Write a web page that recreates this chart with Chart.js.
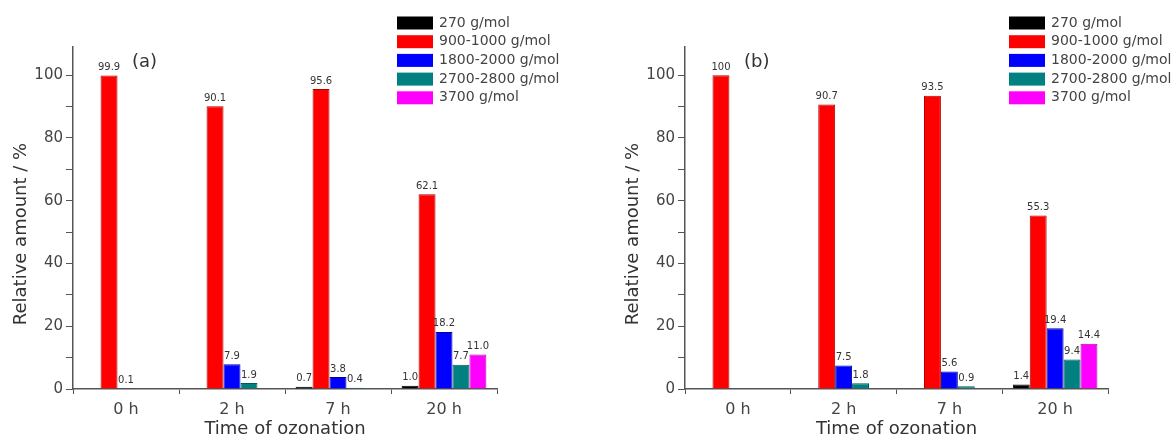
<!DOCTYPE html>
<html lang="en">
<head>
<meta charset="UTF-8">
<title>Relative amount vs time of ozonation</title>
<style>
  body { margin: 0; background: #fff; }
  #wrap { position: relative; width: 1176px; height: 440px; overflow: hidden; }
  .panel { position: absolute; top: 0; height: 440px; }
  #panelA { left: 0; width: 588px; }
  #panelB { left: 612px; width: 564px; }
</style>
</head>
<body>
<div id="wrap">
  <div class="panel" id="panelA"><canvas id="chartA"></canvas></div>
  <div class="panel" id="panelB"><canvas id="chartB"></canvas></div>
</div>
<script src="https://cdn.jsdelivr.net/npm/chart.js@4/dist/chart.umd.min.js"></script>
<script>
const times = ['0 h', '2 h', '7 h', '20 h']
const seriesNames = ['270 g/mol', '900-1000 g/mol', '1800-2000 g/mol', '2700-2800 g/mol', '3700 g/mol']
const yLabelTicks = [0, 20, 40, 60, 80, 100]
const yMarkTicks = [0, 10, 20, 30, 40, 50, 60, 70, 80, 90, 100]

// panel (a)
const a270 = [null, null, 0.7, 1.0]
const a900 = [99.9, 90.1, 95.6, 62.1]
const a1800 = [0.1, 7.9, 3.8, 18.2]
const a2700 = [null, 1.9, 0.4, 7.7]
const a3700 = [null, null, null, 11.0]

// panel (b)
const b270 = [null, null, null, 1.4]
const b900 = [100, 90.7, 93.5, 55.3]
const b1800 = [null, 7.5, 5.6, 19.4]
const b2700 = [null, 1.8, 0.9, 9.4]
const b3700 = [null, null, null, 14.4]

const fillColors = ['#000000', '#ff0000', '#0000ff', '#008080', '#ff00ff']
const edgeColors = ['#000000', '#b00000', '#0000a0', '#005a5a', '#b000b0']
const FONT = '"DejaVu Sans", sans-serif'

// bar value text above every bar
const valueLabels = {
  id: 'valueLabels',
  afterDatasetsDraw(chart) {
    const ctx = chart.ctx
    ctx.save()
    ctx.font = '10px ' + FONT
    ctx.fillStyle = '#333'
    ctx.textAlign = 'center'
    ctx.textBaseline = 'bottom'
    chart.data.datasets.forEach((ds, i) => {
      chart.getDatasetMeta(i).data.forEach((bar, j) => {
        const v = ds.data[j]
        if (v == null) return
        const txt = v === 100 ? '100' : v.toFixed(1)
        ctx.fillText(txt, bar.x, bar.y - 3)
      })
    })
    ctx.restore()
  }
}

// legend boxes at the top right, panel tag and y title
const boxLegend = {
  id: 'boxLegend',
  afterDraw(chart, args, opts) {
    const ctx = chart.ctx
    ctx.save()
    ctx.font = '14px ' + FONT
    ctx.textBaseline = 'middle'
    ctx.textAlign = 'left'
    chart.data.datasets.forEach((ds, i) => {
      const y = opts.y + i * opts.step
      ctx.fillStyle = ds.backgroundColor
      ctx.fillRect(opts.x, y - 6.5, 36, 13)
      ctx.fillStyle = '#444'
      ctx.fillText(ds.label, opts.x + 42, y)
    })
    ctx.font = '18px ' + FONT
    ctx.fillStyle = '#333'
    ctx.fillText(opts.tag, 132, 62)
    // y axis title, sits a bit below the axis middle in the original
    ctx.translate(21, 234)
    ctx.rotate(-Math.PI / 2)
    ctx.textAlign = 'center'
    ctx.fillText('Relative amount / %', 0, 0)
    ctx.restore()
  }
}

function makeChart(id, series, tag, rightPad) {
  new Chart(document.getElementById(id), {
    type: 'bar',
    data: {
      labels: times,
      datasets: series.map((d, i) => ({
        label: seriesNames[i],
        data: d,
        backgroundColor: fillColors[i],
        borderColor: edgeColors[i],
        borderWidth: 1,
        categoryPercentage: 0.8,
        barPercentage: 1
      }))
    },
    options: {
      responsive: true,
      maintainAspectRatio: false,
      animation: false,
      events: [],
      layout: { padding: { top: 47, right: rightPad, left: 0, bottom: 0 } },
      plugins: {
        legend: { display: false },
        tooltip: { enabled: false },
        boxLegend: { x: 397, y: 23, step: 18.7, tag: tag }
      },
      scales: {
        x: {
          border: { color: '#555', width: 1.5 },
          grid: { drawOnChartArea: false, tickLength: 5, color: '#555' },
          ticks: { font: { family: FONT, size: 16 }, color: '#444', padding: 6 },
          title: {
            display: true, text: 'Time of ozonation', color: '#333',
            font: { family: FONT, size: 18 }, padding: { top: 0, bottom: 0 }
          },
          afterFit(s) { s.height = 51 }
        },
        y: {
          min: 0,
          max: 109,
          border: { color: '#555', width: 1.5 },
          grid: { drawOnChartArea: false, tickLength: 7, color: '#555' },
          afterBuildTicks(s) { s.ticks = yMarkTicks.map(v => ({ value: v })) },
          ticks: {
            font: { family: FONT, size: 15 }, color: '#444', padding: 3,
            callback: v => yLabelTicks.includes(v) ? v : ''
          },
          afterFit(s) { s.width = 73 }
        }
      }
    },
    plugins: [valueLabels, boxLegend]
  })
}

makeChart('chartA', [a270, a900, a1800, a2700, a3700], '(a)', 91)
makeChart('chartB', [b270, b900, b1800, b2700, b3700], '(b)', 68)
</script>
</body>
</html>
